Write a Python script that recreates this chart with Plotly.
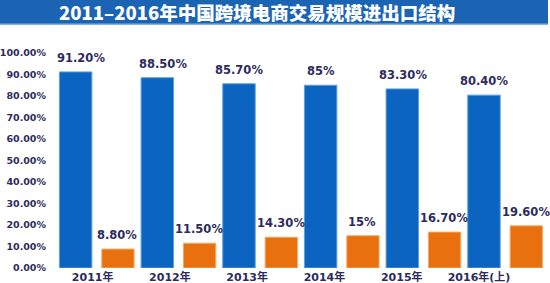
import plotly.graph_objects as go

years = ["2011年", "2012年", "2013年", "2014年", "2015年", "2016年(上)"]
export_share = [91.2, 88.5, 85.7, 85.0, 83.3, 80.4]
import_share = [8.8, 11.5, 14.3, 15.0, 16.7, 19.6]
export_labels = ["91.20%", "88.50%", "85.70%", "85%", "83.30%", "80.40%"]
import_labels = ["8.80%", "11.50%", "14.30%", "15%", "16.70%", "19.60%"]
ytick_vals = [0, 10, 20, 30, 40, 50, 60, 70, 80, 90, 100]
ytick_text = ["0.00%", "10.00%", "20.00%", "30.00%", "40.00%", "50.00%",
              "60.00%", "70.00%", "80.00%", "90.00%", "100.00%"]
title_text = "2011–2016年中国跨境电商交易规模进出口结构"

BLUE = "#0a64c0"
ORANGE = "#e8700e"
NAVY = "#2d2b5e"
FONT = "DejaVu Sans, Noto Sans CJK SC, sans-serif"

fig = go.Figure()
fig.add_trace(go.Bar(x=years, y=export_share, marker=dict(color=BLUE, line=dict(color="#5c9fe0", width=1)),
                     offset=-0.458, width=0.397, hoverinfo="skip"))
fig.add_trace(go.Bar(x=years, y=import_share, marker=dict(color=ORANGE, line=dict(color="#f5a860", width=1)),
                     offset=0.061, width=0.395, hoverinfo="skip"))
# invisible trace to carry the tick-label axis
fig.add_trace(go.Scatter(x=list(range(len(years))), y=[0] * len(years), xaxis="x2",
                         mode="markers", marker=dict(opacity=0), hoverinfo="skip", showlegend=False))

anns = []
for i, (v, t) in enumerate(zip(export_share, export_labels)):
    anns.append(dict(x=years[i], y=v, xref="x", yref="y", text=t, showarrow=False,
                     xshift=-21 + (5 if i < 2 else 0), yshift=14, yanchor="middle",
                     font=dict(family=FONT, size=11.5, color=NAVY, weight="bold")))
for i, (v, t) in enumerate(zip(import_share, import_labels)):
    anns.append(dict(x=years[i], y=v, xref="x", yref="y", text=t, showarrow=False,
                     xshift=20.5, yshift=14, yanchor="middle",
                     font=dict(family=FONT, size=11.5, color=NAVY, weight="bold")))
pw = 490.0
ph = 215.0
anns.append(dict(x=(257 - 56) / pw, xref="paper", y=1 + (53 - 12) / ph, yref="paper", text=title_text,
                 showarrow=False, xanchor="center", yanchor="middle",
                 font=dict(family="Noto Sans CJK SC, DejaVu Sans, sans-serif", size=18.5, color="white", weight=900)))

fig.update_layout(
    width=550, height=283,
    margin=dict(l=56, r=4, t=53, b=15, autoexpand=False),
    paper_bgcolor="white", plot_bgcolor="white",
    showlegend=False,
    barmode="overlay",
    xaxis=dict(type="category", range=[-0.5, 5.5], showticklabels=False, showgrid=False,
               zeroline=False, showline=False, ticks="", automargin=False),
    xaxis2=dict(overlaying="x", anchor="y", side="bottom", range=[-0.474, 5.867],
                tickvals=list(range(len(years))), ticktext=years, showgrid=False,
                zeroline=False, showline=False, ticks="", ticklabelstandoff=1, automargin=False,
                tickfont=dict(family=FONT, size=11, color=NAVY, weight="bold")),
    yaxis=dict(range=[0, 100], tickvals=ytick_vals, ticktext=ytick_text, showgrid=False,
               zeroline=False, showline=False, ticks="", ticklabelstandoff=9, automargin=False,
               tickfont=dict(family=FONT, size=9.5, color=NAVY, weight="bold")),
    shapes=[
        dict(type="rect", xref="paper", yref="paper", x0=-56 / pw, x1=(548 - 56) / pw,
             y0=1 + (53 - 24) / ph, y1=1 + 53 / ph, fillcolor="#1b64b4", line=dict(width=0), layer="below"),
        dict(type="line", xref="paper", yref="paper", x0=-56 / pw, x1=(548 - 56) / pw,
             y0=1 + (53 - 24) / ph, y1=1 + (53 - 24) / ph, line=dict(color="#5a9be0", width=1.5)),
    ],
    annotations=anns,
)
fig.write_html("out.html")
